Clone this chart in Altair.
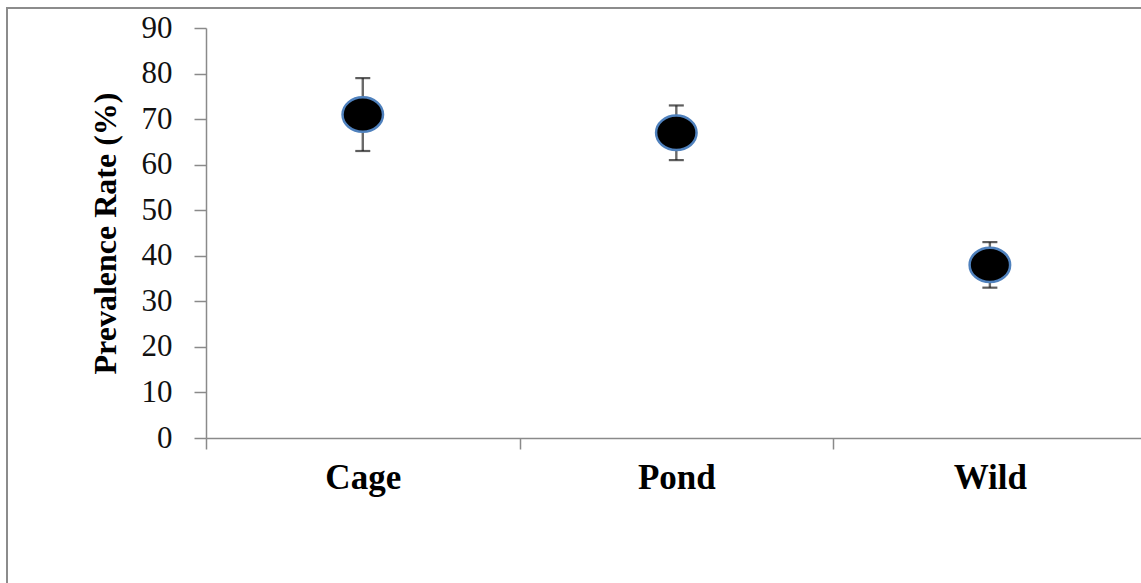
import altair as alt
import pandas as pd

# Prevalence by culture system (mean and error)
categories = ["Cage", "Pond", "Wild"]
prevalence = [71, 67, 38]
error = [8, 6, 5]

y_ticks = [0, 10, 20, 30, 40, 50, 60, 70, 80, 90]

df = pd.DataFrame({
    "system": categories,
    "pos": [i + 0.5 for i in range(len(categories))],
    "rate": prevalence,
    "lo": [m - e for m, e in zip(prevalence, error)],
    "hi": [m + e for m, e in zip(prevalence, error)],
})

SERIF = "Liberation Serif"
PLOT_W, PLOT_H = 935, 410
X_MAX = 2.982  # the last category band runs past the right edge

label_names = "[" + ",".join(f"'{c}'" for c in categories) + "]"

x_axis = alt.Axis(
    values=[0, 0.5, 1, 1.5, 2, 2.5],
    labelExpr=f"datum.value % 1 == 0 ? '' : {label_names}[floor(datum.value)]",
    tickColor={"condition": {"test": "datum.value % 1 != 0", "value": "transparent"},
               "value": "#8a8a8a"},
    tickSize=11, tickWidth=1.5,
    domainColor="#8a8a8a", domainWidth=1.5,
    labelFont=SERIF, labelFontSize=35, labelFontWeight="bold", labelColor="#000000",
    labelPadding=11, labelOverlap=False, labelFlush=False, labelBound=False,
    grid=False, title=None,
)
y_axis = alt.Axis(
    values=y_ticks,
    tickSize=12, tickWidth=1.5, tickColor="#8a8a8a",
    domainColor="#8a8a8a", domainWidth=1.5,
    labelFont=SERIF, labelFontSize=31, labelColor="#111111", labelPadding=22,
    grid=False,
    title="Prevalence Rate (%)", titleFont=SERIF, titleFontSize=32,
    titleFontWeight="bold", titleColor="#000000", titlePadding=19,
)

x = alt.X("pos:Q", scale=alt.Scale(domain=[0, X_MAX], nice=False, zero=False), axis=x_axis)
y_scale = alt.Scale(domain=[0, 90], nice=False)

base = alt.Chart(df)

frame = base.mark_rect(fill=None, stroke="#8c8c8c", strokeWidth=2).encode(
    x=alt.value(-199), x2=alt.value(PLOT_W + 40),
    y=alt.value(-20), y2=alt.value(PLOT_H + 200),
)

bars = base.mark_rule(color="#6a6a6a", strokeWidth=2.4).encode(
    x=x,
    y=alt.Y("lo:Q", scale=y_scale, axis=y_axis),
    y2="hi:Q",
)

caps_hi = base.mark_tick(orient="horizontal", size=15, thickness=2.2, color="#1a1a1a").encode(
    x=x, y=alt.Y("hi:Q", scale=y_scale)
)
caps_lo = base.mark_tick(orient="horizontal", size=15, thickness=2.2, color="#1a1a1a").encode(
    x=x, y=alt.Y("lo:Q", scale=y_scale)
)

ellipse = ("M -1,0 C -1,-0.4694 -0.5523,-0.85 0,-0.85 C 0.5523,-0.85 1,-0.4694 1,0 "
           "C 1,0.4694 0.5523,0.85 0,0.85 C -0.5523,0.85 -1,0.4694 -1,0 Z")
points = base.mark_point(
    shape=ellipse, size=1640, filled=True, fill="#000000", opacity=1,
    stroke="#4f81bd", strokeWidth=2.5,
).encode(x=x, y=alt.Y("rate:Q", scale=y_scale))

chart = alt.layer(frame, bars, caps_hi, caps_lo, points).properties(
    width=PLOT_W, height=PLOT_H,
    autosize=alt.AutoSizeParams(type="none"),
    padding={"left": 206, "top": 28, "right": 0, "bottom": 145},
    background="white",
).configure_view(stroke=None)

chart.save("out.html", embed_options={"renderer": "svg", "actions": False})
